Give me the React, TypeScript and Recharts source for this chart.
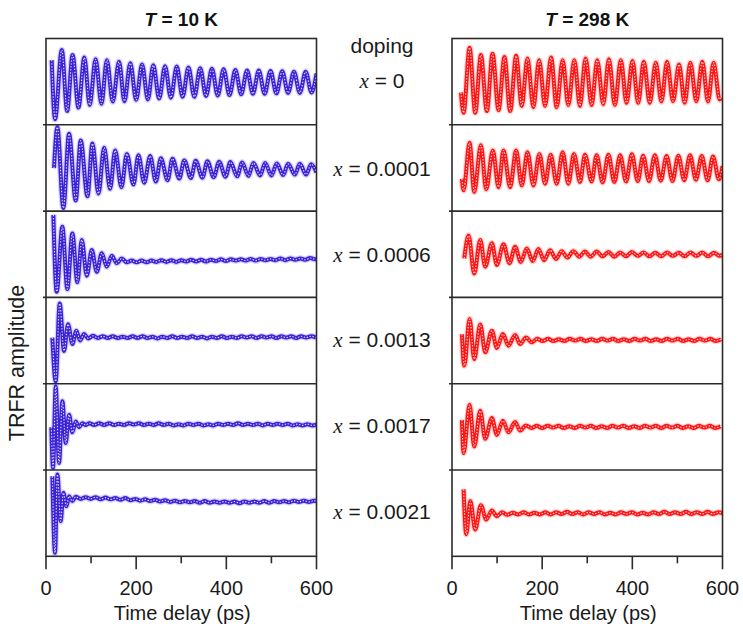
import React from "react";
import { LineChart, Line, XAxis, YAxis } from "recharts";

type Pt = [number, number];

// traces: [time (ps), amplitude scaled to the panel, -1..1]
// T = 10 K
const cold0: Pt[] = [
  [12.6, 0.51], [20, -0.86], [35, 0.745], [47, -0.67], [59, 0.63], [72, -0.59], [85, 0.57], [97, -0.53],
  [110, 0.53], [123, -0.5], [135, 0.51], [148, -0.45], [162, 0.47], [174, -0.44], [187, 0.44], [200, -0.41],
  [213, 0.41], [226, -0.4], [238, 0.39], [251, -0.38], [264, 0.37], [277, -0.36], [290, 0.36], [303, -0.34],
  [316, 0.34], [329, -0.34], [342, 0.32], [355, -0.32], [368, 0.31], [381, -0.31], [394, 0.3], [407, -0.3],
  [420, 0.28], [433, -0.28], [446, 0.27], [459, -0.27], [472, 0.27], [485, -0.27], [498, 0.26], [511, -0.26],
  [524, 0.25], [537, -0.25], [550, 0.24], [563, -0.25], [576, 0.24], [589, -0.24], [600, 0.2],
];
const cold1: Pt[] = [
  [17.8, 0], [25.2, 0.95], [38.5, -0.925], [51.1, 0.8], [65.9, -0.75], [77, 0.64], [91.9, -0.65], [103, 0.57],
  [116.3, -0.59], [128.9, 0.47], [142.2, -0.48], [153.3, 0.41], [167.4, -0.44], [179.3, 0.33], [194, -0.38],
  [205, 0.3], [217.8, -0.34], [231, 0.28], [243.7, -0.31], [254.8, 0.23], [269.6, -0.28], [280.7, 0.22],
  [295.6, -0.24], [306.7, 0.18], [321.5, -0.23], [332, 0.17], [347, -0.22], [358, 0.16], [372, -0.21],
  [384, 0.15], [398, -0.2], [409, 0.14], [424, -0.19], [435, 0.13], [449, -0.18], [460, 0.12], [475, -0.17],
  [486, 0.12], [500, -0.17], [512, 0.11], [526, -0.16], [537, 0.1], [552, -0.15], [563, 0.1], [577, -0.15],
  [588, 0.09], [600, -0.1],
];
const cold6: Pt[] = [
  [16.3, 0.91], [23.7, -0.87], [36.3, 0.635], [47.4, -0.81], [58.5, 0.48], [69.6, -0.65], [79.3, 0.33],
  [90.4, -0.5], [101.5, 0.095], [112.6, -0.41], [123.7, 0.02], [134.8, -0.29], [146, -0.04], [157, -0.21],
  [168, -0.1], [179, -0.19], [190, -0.15], [201, -0.19], [212, -0.15], [223, -0.19], [234, -0.15], [245, -0.18],
  [256, -0.14], [267, -0.18], [278, -0.14], [289, -0.18], [300, -0.14], [311, -0.17], [322, -0.13], [333, -0.17],
  [344, -0.13], [355, -0.17], [366, -0.13], [377, -0.16], [388, -0.12], [399, -0.16], [410, -0.12], [421, -0.15],
  [432, -0.12], [443, -0.15], [454, -0.11], [465, -0.15], [476, -0.11], [487, -0.14], [498, -0.11], [509, -0.14],
  [520, -0.1], [531, -0.14], [542, -0.1], [553, -0.13], [564, -0.1], [575, -0.13], [586, -0.09], [597, -0.12],
  [600, -0.11],
];
const cold13: Pt[] = [
  [14.1, 0.06], [21.5, -0.957], [30.4, 0.85], [40, -0.25], [48.9, 0.37], [58.5, -0.09], [67.4, 0.22],
  [75.6, -0.01], [84.4, 0.14], [94, 0.04], [104, 0.1], [115, 0.05], [126, 0.09], [137, 0.05], [148, 0.09],
  [159, 0.05], [170, 0.08], [181, 0.05], [192, 0.09], [203, 0.05], [214, 0.09], [225, 0.05], [236, 0.08],
  [247, 0.04], [258, 0.08], [269, 0.05], [280, 0.09], [291, 0.05], [302, 0.08], [313, 0.05], [324, 0.09],
  [335, 0.05], [346, 0.08], [357, 0.04], [368, 0.08], [379, 0.05], [390, 0.09], [401, 0.05], [412, 0.08],
  [423, 0.05], [434, 0.09], [445, 0.06], [456, 0.09], [467, 0.05], [478, 0.09], [489, 0.06], [500, 0.09],
  [511, 0.05], [522, 0.09], [533, 0.06], [544, 0.09], [555, 0.05], [566, 0.09], [577, 0.06], [588, 0.09],
  [599, 0.06],
];
const cold17: Pt[] = [
  [11.85, 0], [15.6, -0.95], [21.5, 0.94], [28.9, -0.83], [36.3, 0.6], [43.7, -0.37], [51.1, 0.29],
  [58.5, -0.12], [65.9, 0.13], [73.3, 0], [80.7, 0.09], [88, 0.05], [96, 0.09], [107, 0.05], [118, 0.09],
  [129, 0.05], [140, 0.09], [151, 0.05], [162, 0.08], [173, 0.05], [184, 0.09], [195, 0.06], [206, 0.09],
  [217, 0.05], [228, 0.08], [239, 0.05], [250, 0.09], [261, 0.05], [272, 0.08], [283, 0.04], [294, 0.07],
  [305, 0.04], [316, 0.08], [327, 0.05], [338, 0.08], [349, 0.04], [360, 0.07], [371, 0.04], [382, 0.08],
  [393, 0.05], [404, 0.08], [415, 0.05], [426, 0.09], [437, 0.05], [448, 0.08], [459, 0.05], [470, 0.08],
  [481, 0.04], [492, 0.08], [503, 0.05], [514, 0.08], [525, 0.05], [536, 0.08], [547, 0.04], [558, 0.07],
  [569, 0.04], [580, 0.07], [591, 0.04], [600, 0.06],
];
const cold21: Pt[] = [
  [14.1, 0.855], [20, -0.92], [25.2, 0.895], [32.6, -0.185], [38.5, 0.47], [45.2, 0.16], [51.1, 0.39],
  [58.5, 0.28], [66, 0.38], [77, 0.33], [88, 0.37], [99, 0.33], [110, 0.37], [121, 0.32], [132, 0.36],
  [143, 0.32], [154, 0.35], [165, 0.31], [176, 0.35], [187, 0.3], [198, 0.33], [209, 0.29], [220, 0.32],
  [231, 0.28], [242, 0.31], [253, 0.27], [264, 0.3], [275, 0.26], [286, 0.29], [297, 0.25], [308, 0.28],
  [319, 0.25], [330, 0.28], [341, 0.24], [352, 0.28], [363, 0.24], [374, 0.27], [385, 0.24], [396, 0.27],
  [407, 0.24], [418, 0.27], [429, 0.23], [440, 0.27], [451, 0.24], [462, 0.27], [473, 0.24], [484, 0.28],
  [495, 0.24], [506, 0.28], [517, 0.25], [528, 0.28], [539, 0.25], [550, 0.29], [561, 0.26], [572, 0.29],
  [583, 0.26], [594, 0.29], [600, 0.28],
];

// T = 298 K
const warm0: Pt[] = [
  [19.8, -0.24], [25.7, -0.71], [39, 0.8], [51.5, -0.71], [64.1, 0.63], [77.3, -0.67], [90, 0.66],
  [103.2, -0.65], [116.4, 0.58], [129, -0.67], [142.2, 0.61], [154.8, -0.55], [167.4, 0.55], [180.6, -0.58],
  [193.2, 0.51], [206.4, -0.55], [219.7, 0.57], [232.2, -0.58], [245.5, 0.51], [258, -0.53], [271.3, 0.51],
  [283.8, -0.55], [296.4, 0.55], [309.7, -0.53], [322.2, 0.51], [335.5, -0.51], [348, 0.53], [361.2, -0.53],
  [374.5, 0.51], [387.1, -0.48], [400.4, 0.49], [412.9, -0.48], [425.4, 0.47], [438.7, -0.48], [452, 0.45],
  [464.5, -0.45], [477, 0.47], [490.3, -0.44], [503.6, 0.41], [516.1, -0.48], [528.7, 0.45], [542, -0.44],
  [555.2, 0.47], [567.8, -0.45], [580.3, 0.45], [593.6, -0.4], [597.3, -0.36],
];
const warm1: Pt[] = [
  [22, -0.245], [25.7, -0.515], [39, 0.59], [49.3, -0.55], [64.1, 0.53], [75.9, -0.49], [90.6, 0.41],
  [103.2, -0.44], [114.2, 0.41], [129, -0.44], [142.2, 0.41], [154.8, -0.4], [167.4, 0.37], [180.6, -0.4],
  [193.9, 0.33], [206.4, -0.36], [218.9, 0.31], [232.2, -0.36], [245.5, 0.37], [258, -0.36], [270.6, 0.33],
  [283.9, -0.32], [294.9, 0.31], [309.7, -0.31], [320.8, 0.3], [334, -0.33], [347, 0.31], [360, -0.32],
  [373, 0.3], [386, -0.31], [399, 0.32], [412, -0.3], [424, 0.29], [437, -0.3], [450, 0.3], [463, -0.29],
  [476, 0.28], [489, -0.3], [502, 0.29], [515, -0.28], [528, 0.3], [541, -0.27], [554, 0.28], [567, -0.28],
  [579, 0.27], [592, -0.26], [600, 0.05],
];
const warm6: Pt[] = [
  [27.2, -0.1], [36.8, 0.43], [49.3, -0.45], [62.6, 0.33], [73.7, -0.29], [88.4, 0.25], [99.5, -0.25],
  [114.2, 0.23], [127.5, -0.21], [140, 0.17], [152.6, -0.18], [165.9, 0.13], [179.1, -0.16], [191.7, 0.12],
  [204.2, -0.14], [217.5, 0.09], [230.8, -0.11], [243.3, 0.07], [255.8, -0.08], [269.1, 0.07], [282.4, -0.06],
  [294.9, 0.06], [307.5, -0.06], [320.8, 0.06], [334, -0.05], [347, 0.05], [360, -0.06], [373, 0.04],
  [386, -0.05], [399, 0.05], [412, -0.04], [425, 0.04], [438, -0.05], [451, 0.03], [464, -0.05], [477, 0.04],
  [490, -0.04], [503, 0.03], [516, -0.05], [529, 0.04], [542, -0.04], [555, 0.04], [568, -0.05], [581, 0.03],
  [594, -0.04], [600, 0],
];
const warm13: Pt[] = [
  [22, 0.14], [27.2, -0.59], [39, 0.49], [49.3, -0.44], [62.6, 0.36], [73.7, -0.28], [88.4, 0.22],
  [99.5, -0.18], [112.8, 0.14], [125.3, -0.13], [140, 0.12], [151.1, -0.09], [164.4, 0.06], [176.9, -0.05],
  [189, 0.03], [201, -0.02], [213, 0.03], [225, -0.02], [237, 0.02], [249, -0.02], [261, 0.03], [273, -0.01],
  [285, 0.03], [297, -0.02], [309, 0.02], [321, -0.02], [333, 0.03], [345, -0.01], [357, 0.03], [369, -0.02],
  [381, 0.02], [393, -0.02], [405, 0.03], [417, -0.01], [429, 0.03], [441, -0.02], [453, 0.02], [465, -0.02],
  [477, 0.03], [489, -0.01], [501, 0.03], [513, -0.02], [525, 0.02], [537, -0.02], [549, 0.03], [561, -0.01],
  [573, 0.03], [585, -0.02], [597, 0.02],
];
const warm17: Pt[] = [
  [22, 0.17], [25.7, -0.6], [39, 0.52], [49.3, -0.45], [62.6, 0.38], [73.7, -0.27], [88.4, 0.21],
  [99.5, -0.18], [112.8, 0.15], [125.3, -0.12], [140, 0.12], [151.1, -0.08], [164, 0.04], [176, -0.02],
  [188, 0.03], [200, -0.02], [212, 0.03], [224, -0.01], [236, 0.03], [248, -0.02], [260, 0.02], [272, -0.02],
  [284, 0.03], [296, -0.01], [308, 0.03], [320, -0.02], [332, 0.02], [344, -0.02], [356, 0.03], [368, -0.01],
  [380, 0.03], [392, -0.02], [404, 0.02], [416, -0.02], [428, 0.03], [440, -0.01], [452, 0.03], [464, -0.02],
  [476, 0.03], [488, -0.01], [500, 0.03], [512, -0.02], [524, 0.02], [536, -0.02], [548, 0.03], [560, -0.01],
  [572, 0.03], [584, -0.02], [596, 0.02],
];
const warm21: Pt[] = [
  [25.7, 0.55], [31.6, -0.49], [40.5, 0.28], [51.5, -0.38], [64.1, 0.185], [75.9, -0.15], [88.4, 0.06],
  [99.5, -0.07], [111, 0.02], [123, -0.04], [135, 0.01], [147, -0.03], [159, 0.02], [171, -0.03], [183, 0.01],
  [195, -0.03], [207, 0.02], [219, -0.03], [231, 0.02], [243, -0.02], [255, 0.03], [267, -0.02], [279, 0.02],
  [291, -0.03], [303, 0.02], [315, -0.02], [327, 0.02], [339, -0.03], [351, 0.01], [363, -0.03], [375, 0.02],
  [387, -0.02], [399, 0.02], [411, -0.03], [423, 0.01], [435, -0.03], [447, 0.02], [459, -0.02], [471, 0.03],
  [483, -0.02], [495, 0.02], [507, -0.02], [519, 0.03], [531, -0.02], [543, 0.02], [555, -0.02], [567, 0.03],
  [579, -0.02], [591, 0.02], [600, 0],
];

const dopingLevels = ["0", "0.0001", "0.0006", "0.0013", "0.0017", "0.0021"];
const coldSeries = [cold0, cold1, cold6, cold13, cold17, cold21];
const warmSeries = [warm0, warm1, warm6, warm13, warm17, warm21];
const temperatures = ["10", "298"];
const timeTicks = [0, 100, 200, 300, 400, 500, 600];
const labelledTicks = [0, 200, 400, 600];

// layout
const FONT = '"Liberation Sans", Arial, Helvetica, sans-serif';
const TOP = 38.5;
const ROW_H = 86.3;
const PLOT_W = 270.5;
const COL_X = [46, 452];
const PAD = 22;
const AXIS_H = 46;
const INK = "#2b2b2b";
const labelBaselines = [88, 176, 262, 347, 433, 519];

const TimeTick = (props: any) => {
  const { x, y, payload } = props;
  const major = labelledTicks.includes(payload.value);
  return (
    <g>
      <line x1={x} x2={x} y1={y} y2={y + (major ? 13 : 7)} stroke={INK} strokeWidth={1.6} />
      {major && (
        <text x={x} y={y + 38.5} textAnchor="middle" fontSize={20} fontFamily={FONT} fill="#1a1a1a">
          {payload.value}
        </text>
      )}
    </g>
  );
};

interface PanelProps {
  points: Pt[];
  color: string;
  halo: string;
  last: boolean;
}

const Panel: React.FC<PanelProps> = ({ points, color, halo, last }) => {
  const data = points.map(([t, v]) => ({ t, v }));
  return (
    <LineChart
      width={PLOT_W + 2 * PAD}
      height={ROW_H + (last ? AXIS_H : 0)}
      data={data}
      margin={{ top: 0, right: PAD, bottom: 0, left: PAD }}
    >
      <XAxis
        type="number"
        dataKey="t"
        domain={[0, 600]}
        allowDataOverflow
        ticks={timeTicks}
        interval={0}
        hide={!last}
        height={AXIS_H}
        axisLine={false}
        tickLine={false}
        tickSize={0}
        tickMargin={0}
        tick={(p: any) => <TimeTick {...p} />}
      />
      <YAxis hide type="number" domain={[-1, 1]} allowDataOverflow />
      <Line dataKey="v" type="monotone" stroke={halo} strokeWidth={6.5} strokeOpacity={0.45} dot={false} isAnimationActive={false} />
      <Line dataKey="v" type="monotone" stroke={color} strokeWidth={4} dot={false} isAnimationActive={false} />
      <Line
        dataKey="v"
        type="monotone"
        stroke="#ffffff"
        strokeWidth={1.1}
        strokeOpacity={0.85}
        strokeDasharray="1.4 1.6"
        dot={false}
        isAnimationActive={false}
      />
    </LineChart>
  );
};

export default function App() {
  const columns = [
    { series: coldSeries, color: "#3b22d6", halo: "#a89cf0" },
    { series: warmSeries, color: "#ff1414", halo: "#ffa0a0" },
  ];
  return (
    <div style={{ position: "absolute", left: 0, top: 0, width: 743, height: 626, background: "#fff", fontFamily: FONT }}>
      {columns.map((col, c) =>
        col.series.map((pts, r) => (
          <div key={`${c}-${r}`} style={{ position: "absolute", left: COL_X[c] - PAD, top: TOP + r * ROW_H }}>
            <Panel points={pts} color={col.color} halo={col.halo} last={r === col.series.length - 1} />
          </div>
        ))
      )}
      <svg width={743} height={626} style={{ position: "absolute", left: 0, top: 0, pointerEvents: "none" }}>
        {COL_X.map((x0, c) => (
          <g key={c}>
            <rect x={x0} y={TOP} width={PLOT_W} height={ROW_H * 6} fill="none" stroke={INK} strokeWidth={1.6} />
            {dopingLevels.slice(1).map((_, r) => (
              <line
                key={r}
                x1={x0 - 3}
                x2={x0 + PLOT_W}
                y1={TOP + (r + 1) * ROW_H}
                y2={TOP + (r + 1) * ROW_H}
                stroke={INK}
                strokeWidth={1.6}
              />
            ))}
            <text x={x0 + PLOT_W / 2} y={26} textAnchor="middle" fontSize={19} fontWeight="bold" fontFamily={FONT} fill="#111">
              <tspan fontStyle="italic">T</tspan>
              {` = ${temperatures[c]} K`}
            </text>
            <text x={x0 + PLOT_W / 2 + 1} y={619.5} textAnchor="middle" fontSize={20} fontFamily={FONT} fill="#1a1a1a">
              Time delay (ps)
            </text>
          </g>
        ))}
        <text x={382} y={53} textAnchor="middle" fontSize={21} fontFamily={FONT} fill="#1a1a1a">
          doping
        </text>
        {dopingLevels.map((d, r) => (
          <text key={d} x={382} y={labelBaselines[r]} textAnchor="middle" fontSize={21} fontFamily={FONT} fill="#1a1a1a">
            <tspan fontFamily='"Liberation Serif", "Times New Roman", serif' fontStyle="italic">
              x
            </tspan>
            {` = ${d}`}
          </text>
        ))}
        <text
          transform="translate(24,363) rotate(-90)"
          textAnchor="middle"
          fontSize={21.5}
          fontFamily={FONT}
          fill="#1a1a1a"
        >
          TRFR amplitude
        </text>
      </svg>
    </div>
  );
}
